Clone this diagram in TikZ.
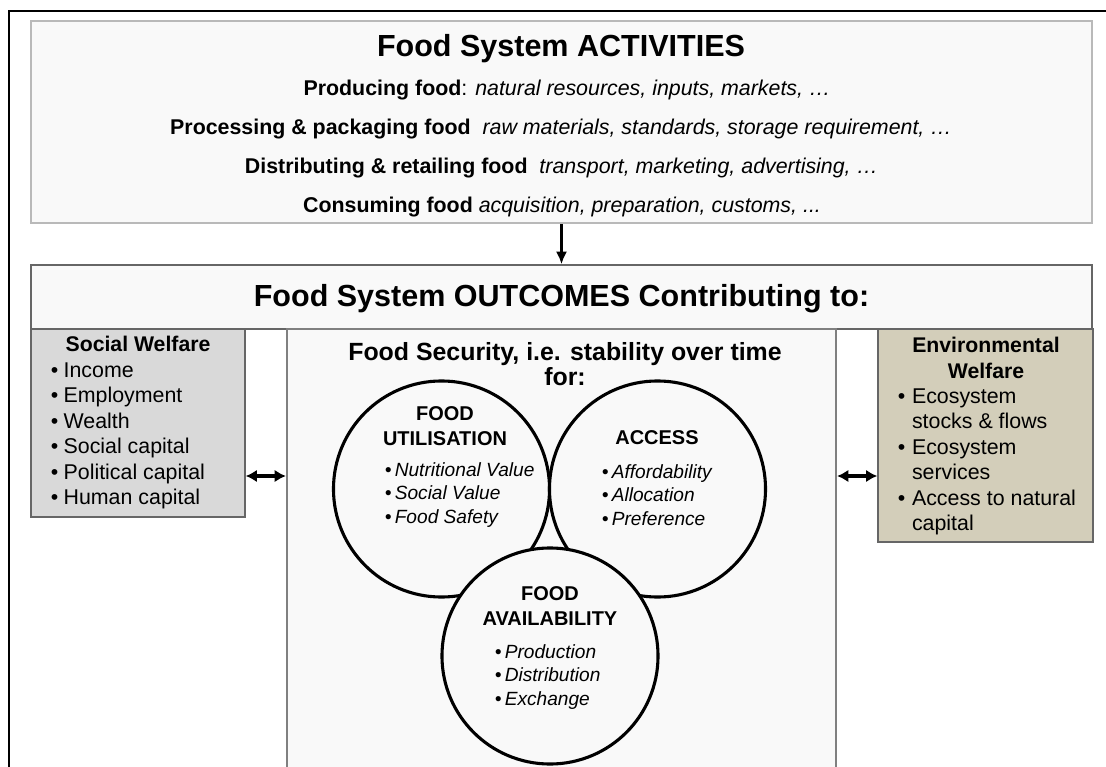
\documentclass[tikz,border=0pt]{standalone}
\usepackage{fontspec}
\setmainfont{Liberation Sans}
\usetikzlibrary{arrows.meta,shadows}
\definecolor{paleface}{HTML}{F9F9F9}
\definecolor{socialgrey}{HTML}{D9D9D9}
\definecolor{envtan}{HTML}{D3CEBA}
\definecolor{edgegrey}{HTML}{666666}
\newcommand{\bul}[1]{\makebox[#1][l]{\textbullet}}

\begin{document}
\begin{tikzpicture}[x=0.025cm, y=0.025cm,
  ttl/.style={font=\fontsize{21.7}{26}\selectfont\bfseries},
  actline/.style={font=\fontsize{15.2}{18}\selectfont},
  boxhead/.style={font=\fontsize{15.1}{18.5}\selectfont\bfseries, align=center},
  boxlist/.style={font=\fontsize{15.2}{18.1}\selectfont, align=left, anchor=west},
  sechead/.style={font=\fontsize{17.7}{17.8}\selectfont\bfseries, align=center},
  cirhead/.style={font=\fontsize{14.2}{17.8}\selectfont\bfseries, align=center},
  cirlist/.style={font=\fontsize{13.6}{16.7}\selectfont\itshape, align=left, anchor=west},
  pillar/.style={rectangle, draw=edgegrey, line width=1pt, inner sep=0pt,
    drop shadow={shadow xshift=0.8pt, shadow yshift=-0.8pt, opacity=0.35}},
  ring/.style={circle, draw, line width=2.2pt, fill=paleface, minimum size=5.4cm, inner sep=0pt},
  arr/.style={-{Latex[length=9pt,width=8pt]}, line width=1.8pt},
  darr/.style={{Latex[length=8pt,width=9pt]}-{Latex[length=8pt,width=9pt]}, line width=2.4pt}]
\useasboundingbox (0,0) rectangle (1106,-767);
\draw [line width=1.8pt] (9,-790) -- (9,-11) -- (1120,-11);

\node [pillar, draw=gray!55, line width=1.5pt, fill=paleface, minimum width=26.525cm, minimum height=5.05cm] (act) at (561.5,-122) {};
\node [ttl] (acttitle) at (561,-49) {Food System ACTIVITIES};
\node [actline] (produce) at (567,-90) {\textbf{Producing food}: \textit{natural resources, inputs, markets, …}};
\node [actline] (process) at (561,-129) {\textbf{Processing \& packaging food}\ \ \textit{raw materials, standards, storage requirement, …}};
\node [actline] (retail) at (561.5,-168) {\textbf{Distributing \& retailing food}\ \ \textit{transport, marketing, advertising, …}};
\node [actline] (consume) at (562,-207) {\textbf{Consuming food} \textit{acquisition, preparation, customs, ...}};

\node [pillar, fill=paleface, minimum width=26.525cm, minimum height=1.6cm] (outhead) at (561.5,-297) {};
\node [ttl] (outtitle) at (561.5,-299) {Food System OUTCOMES Contributing to:};

\node [pillar, fill=socialgrey, minimum width=5.35cm, minimum height=4.7cm] (social) at (138,-423) {};
\node [boxhead] (socialhead) at (138,-344) {Social Welfare};
\node [boxlist] (sociallist) at (46,-436) {\bul{9pt}Income\\\bul{9pt}Employment\\\bul{9pt}Wealth\\\bul{9pt}Social capital\\\bul{9pt}Political capital\\\bul{9pt}Human capital};

\node [pillar, draw=gray, line width=1.5pt, fill=paleface, minimum width=13.725cm, minimum height=11.525cm] (fsec) at (561.5,-559.5) {};
\node [sechead] (fsechead) at (565,-364) {Food Security, i.e. stability over time\\for:};

\node [pillar, fill=envtan, minimum width=5.375cm, minimum height=5.325cm] (env) at (985.5,-435.5) {};
\node [boxhead] (envhead) at (986,-358) {Environmental\\Welfare};
\node [boxlist] (envlist) at (893,-462) {\bul{10pt}Ecosystem\\\hspace*{10pt}stocks \& flows\\\bul{10pt}Ecosystem\\\hspace*{10pt}services\\\bul{10pt}Access to natural\\\hspace*{10pt}capital};

\node [ring] (util) at (441.5,-489) {};
\node [ring] (access) at (657.5,-489) {};
\node [ring] (avail) at (550,-656) {};

\node [cirhead] (utilhead) at (445,-426) {FOOD\\UTILISATION};
\node [cirlist] (utillist) at (380,-495) {\bul{7pt}Nutritional Value\\\bul{7pt}Social Value\\\bul{7pt}Food Safety};
\node [cirhead] (accesshead) at (657,-438) {ACCESS};
\node [cirlist] (accesslist) at (597,-495) {\bul{7pt}Affordability\\\bul{7pt}Allocation\\\bul{7pt}Preference};
\node [cirhead] (availhead) at (550,-606) {FOOD\\AVAILABILITY};
\node [cirlist] (availlist) at (490,-677) {\bul{7pt}Production\\\bul{7pt}Distribution\\\bul{7pt}Exchange};

\coordinate (linkrow) at (0,-476);
\draw [arr] (act.south) -- (outhead.north);
\draw [darr] (social.east |- linkrow) -- (fsec.west |- linkrow);
\draw [darr] (fsec.east |- linkrow) -- (env.west |- linkrow);
\end{tikzpicture}
\end{document}
